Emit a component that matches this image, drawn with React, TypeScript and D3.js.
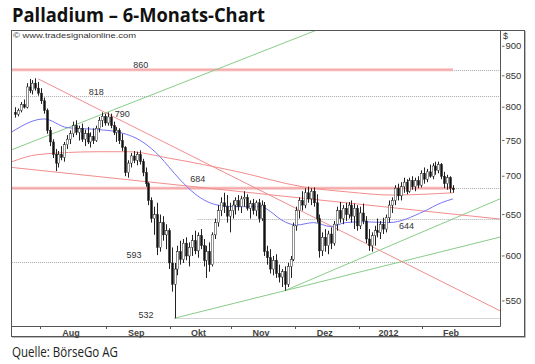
import React from 'react';
import * as d3 from 'd3';

type Bar = [number, number, number, number]; // open, high, low, close

// daily palladium bars, one array per month
const julBars: Bar[] = [
  [792, 800, 784, 789], [789, 798, 786, 795], [795, 808, 792, 804], [804, 812, 798, 800],
  [800, 838, 798, 832], [832, 845, 822, 826], [826, 843, 820, 838], [838, 846, 826, 830],
  [830, 840, 818, 822],
];
const augBars: Bar[] = [
  [822, 830, 805, 810], [810, 815, 790, 795], [795, 798, 760, 765], [765, 770, 742, 748],
  [748, 752, 725, 730], [730, 738, 707, 718], [718, 735, 712, 730], [730, 742, 722, 726],
  [726, 748, 720, 744], [744, 758, 738, 752], [752, 765, 745, 760], [760, 778, 755, 772],
  [772, 780, 758, 762], [762, 772, 750, 768], [768, 775, 748, 752], [752, 766, 742, 760],
  [760, 770, 745, 748], [748, 762, 740, 756], [756, 768, 745, 750], [750, 772, 748, 768],
  [768, 785, 762, 780], [780, 792, 770, 786], [786, 790, 772, 776],
];
const sepBars: Bar[] = [
  [776, 792, 772, 785], [785, 790, 768, 772], [772, 778, 758, 762], [762, 770, 748, 765],
  [765, 768, 745, 750], [750, 760, 735, 740], [740, 742, 700, 705], [705, 722, 698, 718],
  [718, 732, 712, 728], [728, 735, 718, 722], [722, 734, 715, 730], [730, 736, 716, 720],
  [720, 724, 700, 705], [705, 712, 686, 690], [690, 692, 662, 668], [668, 672, 640, 645],
  [645, 660, 625, 650], [650, 665, 601, 610], [610, 650, 605, 640], [640, 648, 618, 625],
  [625, 638, 608, 630], [630, 633, 585, 592],
];
const oktBars: Bar[] = [
  [592, 610, 560, 568], [568, 592, 532, 585], [585, 612, 578, 605], [605, 618, 590, 596],
  [596, 620, 592, 615], [615, 622, 595, 600], [600, 616, 588, 610], [610, 625, 600, 618],
  [618, 630, 602, 606], [606, 628, 598, 624], [624, 632, 608, 612], [612, 620, 588, 595],
  [595, 612, 575, 605], [605, 616, 582, 590], [590, 628, 588, 625], [625, 645, 620, 640],
  [640, 662, 635, 655], [655, 672, 648, 665], [665, 678, 652, 660], [660, 675, 640, 648],
  [648, 665, 628, 655],
];
const novBars: Bar[] = [
  [655, 668, 645, 662], [662, 672, 650, 668], [668, 675, 655, 660], [660, 674, 652, 670],
  [670, 680, 660, 672], [672, 676, 655, 658], [658, 668, 645, 664], [664, 670, 650, 655],
  [655, 668, 648, 665], [665, 670, 640, 645], [645, 668, 642, 662], [662, 666, 600, 605],
  [605, 612, 590, 598], [598, 608, 580, 585], [585, 600, 578, 595], [595, 602, 575, 580],
  [580, 590, 570, 576], [576, 585, 565, 582], [582, 588, 561, 568], [568, 592, 565, 588],
  [588, 600, 575, 596], [596, 640, 594, 636],
];
const dezBars: Bar[] = [
  [636, 660, 630, 655], [655, 672, 645, 668], [668, 680, 655, 662], [662, 684, 658, 678],
  [678, 686, 665, 670], [670, 684, 662, 680], [680, 685, 660, 665], [665, 676, 640, 645],
  [645, 650, 598, 606], [606, 628, 600, 622], [622, 632, 605, 612], [612, 630, 602, 626],
  [626, 634, 608, 615], [615, 642, 612, 638], [638, 660, 630, 655], [655, 666, 640, 645],
  [645, 662, 638, 658], [658, 665, 642, 650], [650, 666, 645, 662], [662, 668, 640, 648],
  [648, 664, 632, 658], [658, 662, 630, 636],
];
const janBars: Bar[] = [
  [636, 660, 632, 652], [652, 664, 638, 642], [642, 648, 615, 620], [620, 632, 606, 612],
  [612, 628, 605, 624], [624, 636, 612, 630], [630, 645, 622, 628], [628, 642, 620, 638],
  [638, 646, 626, 632], [632, 650, 628, 646], [646, 668, 640, 662], [662, 672, 652, 668],
  [668, 688, 662, 684], [684, 690, 668, 674], [674, 692, 668, 686], [686, 698, 678, 692],
  [692, 696, 676, 680], [680, 698, 678, 694], [694, 700, 682, 686], [686, 698, 680, 694],
  [694, 700, 684, 688], [688, 708, 685, 704],
];
const febBars: Bar[] = [
  [704, 712, 690, 696], [696, 710, 692, 706], [706, 716, 698, 700], [700, 718, 696, 714],
  [714, 720, 702, 708], [708, 720, 704, 716], [716, 718, 696, 700], [700, 706, 684, 690],
  [690, 702, 682, 698], [698, 700, 678, 684], [684, 688, 678, 682],
];

const monthBars = [julBars, augBars, sepBars, oktBars, novBars, dezBars, janBars, febBars];
const monthNames = ['', 'Aug', 'Sep', 'Okt', 'Nov', 'Dez', '2012', 'Feb'];
const monthTradingDays = [21, 23, 22, 21, 22, 22, 22, 21];

const priceTicks = [550, 600, 650, 700, 750, 800, 850, 900];

// moving averages, read as [bar index, price]
const maBlue: [number, number][] = [
  [-1, 763], [10, 782], [18, 769], [29, 766], [35, 763], [44, 748], [50, 727], [53, 713],
  [57, 695], [65, 669], [70, 662], [77, 660], [85, 660], [88, 654], [92, 643], [97, 637],
  [103, 640], [109, 635], [114, 640], [120, 641], [129, 640], [141, 654], [147, 665], [151, 670],
];
const maRed: [number, number][] = [
  [-1, 720], [8, 730], [29, 734], [39, 734], [53, 725], [77, 706], [99, 686], [115, 679],
  [130, 675], [151, 678],
];

// trend lines, two anchors each [bar index, price]
const greenUpper: [number, number][] = [[-1, 737], [77, 875]];
const greenLower: [number, number][] = [[55, 532], [93, 561]];
const greenSteep: [number, number][] = [[93, 561], [150, 643]];
const redSteep: [number, number][] = [[8, 845], [31, 792]];
const redFlat: [number, number][] = [[-1, 712], [79, 679]];

// horizontal levels
const levelValues = [860, 818, 684, 644, 593, 532];
const levelStartBar = [-1, -1, -1, 63, -1, 55];
const bandValues = [860, 684];

const labelValues = [860, 818, 790, 684, 644, 593, 532];
const labelBar = [43.4, 28, 37, 63, 135, 41, 45.2];

const W = 535;
const H = 364;
const plotL = 12;
const plotT = 31;
const plotR = 500.5;
const plotB = 326.5;
const labelDy = [-2, -0.5, 3, -6, 9.5, -4, 0];

const App = () => {
  const bars = monthBars.flat();
  const x = d3.scaleLinear().domain([0, bars.length - 1]).range([15, 452.9]);
  const y = d3.scaleLog().domain([524, 927]).range([326, 31]);

  const starts: number[] = [];
  let acc = 0;
  monthBars.forEach((m) => {
    starts.push(acc);
    acc += m.length;
  });

  const extend = (pts: [number, number][], fromIdx: number) => {
    const [a, b] = pts;
    const x1 = x(a[0]);
    const y1 = y(a[1]);
    const k = (y(b[1]) - y1) / (x(b[0]) - x1);
    const xs = x(fromIdx);
    return { x1: xs, y1: y1 + k * (xs - x1), x2: plotR, y2: y1 + k * (plotR - x1) };
  };

  const maLine = d3
    .line<[number, number]>()
    .x((d) => x(d[0]))
    .y((d) => y(d[1]))
    .curve(d3.curveMonotoneX);

  const trend = (pts: [number, number][], color: string) => {
    const s = extend(pts, pts[0][0]);
    return <line {...s} stroke={color} strokeWidth={1} />;
  };

  const txt = '#333';
  const font = 'Liberation Sans, Arial, sans-serif';
  const green = '#88cc88';
  const red = '#f38c8c';

  return (
    <svg width={W} height={H} style={{ position: 'absolute', left: 0, top: 0, background: '#fff' }}>
      <defs>
        <clipPath id="plot">
          <rect x={plotL} y={plotT} width={plotR - plotL} height={plotB - plotT} />
        </clipPath>
      </defs>

      <text x={12} y={21.5} fontFamily="Open Sans, sans-serif" fontWeight={700} fontSize={19}
        fill="#111" textLength={253} lengthAdjust="spacingAndGlyphs">
        Palladium – 6-Monats-Chart
      </text>

      {/* frame */}
      <rect x={12.5} y={31.5} width={513} height={306} fill="none" stroke="#bbb" />
      <rect x={11.5} y={30.5} width={513} height={306} fill="#fff" stroke="#555" />

      <text x={13} y={38} fontFamily={font} fontSize={8} fill={txt} textLength={123}
        lengthAdjust="spacingAndGlyphs">
        © www.tradesignalonline.com
      </text>

      <g clipPath="url(#plot)">
        {/* levels */}
        {levelValues.map((v, i) => (
          <line key={'l' + v} x1={x(levelStartBar[i])} x2={plotR} y1={Math.round(y(v)) + 0.5}
            y2={Math.round(y(v)) + 0.5} stroke="#aaa" strokeDasharray="1,1" />
        ))}
        {bandValues.map((v) => (
          <g key={'b' + v}>
            <rect x={plotL} width={x(bars.length - 1) - plotL} y={y(v) - 1.5} height={3} fill="#f8c0c0" />
            <line x1={plotL} x2={x(bars.length - 1)} y1={y(v)} y2={y(v)} stroke="#f09a9a" strokeWidth={0.8} />
          </g>
        ))}

        {trend(greenUpper, green)}
        {trend(greenLower, green)}
        {trend(greenSteep, green)}
        {trend(redSteep, red)}
        {trend(redFlat, red)}

        <path d={maLine(maRed) || ''} fill="none" stroke={red} strokeWidth={1} />
        <path d={maLine(maBlue) || ''} fill="none" stroke="#7474f2" strokeWidth={1} />

        {/* candles */}
        {bars.map(([o, h, l, c], i) => {
          const cx = Math.round(x(i)) + 0.5;
          const top = y(Math.max(o, c));
          const bot = y(Math.min(o, c));
          return (
            <g key={i}>
              <line x1={cx} x2={cx} y1={y(h)} y2={y(l)} stroke="#222" strokeWidth={1} />
              <rect x={cx - 1} y={top} width={2} height={Math.max(1, bot - top)}
                fill={c >= o ? '#fff' : '#111'} stroke="#222" strokeWidth={0.5} />
            </g>
          );
        })}

        {labelValues.map((v, i) => (
          <text key={'t' + v} x={x(labelBar[i])} y={y(v) + labelDy[i]} textAnchor="middle"
            fontFamily={font} fontSize={9} fill={txt}>
            {v}
          </text>
        ))}
      </g>

      {/* axes */}
      <line x1={plotR} x2={plotR} y1={30.5} y2={plotB} stroke="#555" />
      <line x1={11.5} x2={plotR} y1={plotB} y2={plotB} stroke="#555" />

      <text x={503} y={38.5} fontFamily={font} fontSize={9} fill={txt}>$</text>
      {priceTicks.map((t) => (
        <g key={t}>
          <line x1={plotR + 1.5} x2={plotR + 4} y1={y(t)} y2={y(t)} stroke="#666" />
          <text x={505.5} y={y(t) + 3.2} fontFamily={font} fontSize={9.5} fill={txt}>{t}</text>
        </g>
      ))}

      {starts.map((s, i) =>
        i === 0 ? null : (
          <line key={'tk' + i} x1={Math.round(x(s - 0.5)) + 0.5} x2={Math.round(x(s - 0.5)) + 0.5}
            y1={plotB + 0.5} y2={plotB + 2.5} stroke="#555" />
        )
      )}
      {starts.map((s, i) =>
        monthNames[i] ? (
          <text key={'m' + i} x={x(s - 0.5 + monthTradingDays[i] / 2) - 2} y={335.5}
            textAnchor="middle" fontFamily={font} fontSize={9} fontWeight={700} fill="#444">
            {monthNames[i]}
          </text>
        ) : null
      )}

      <text x={12} y={357} fontFamily="Open Sans, sans-serif" fontSize={15} fill="#222"
        textLength={106} lengthAdjust="spacingAndGlyphs">
        Quelle: BörseGo AG
      </text>
    </svg>
  );
};

export default App;
